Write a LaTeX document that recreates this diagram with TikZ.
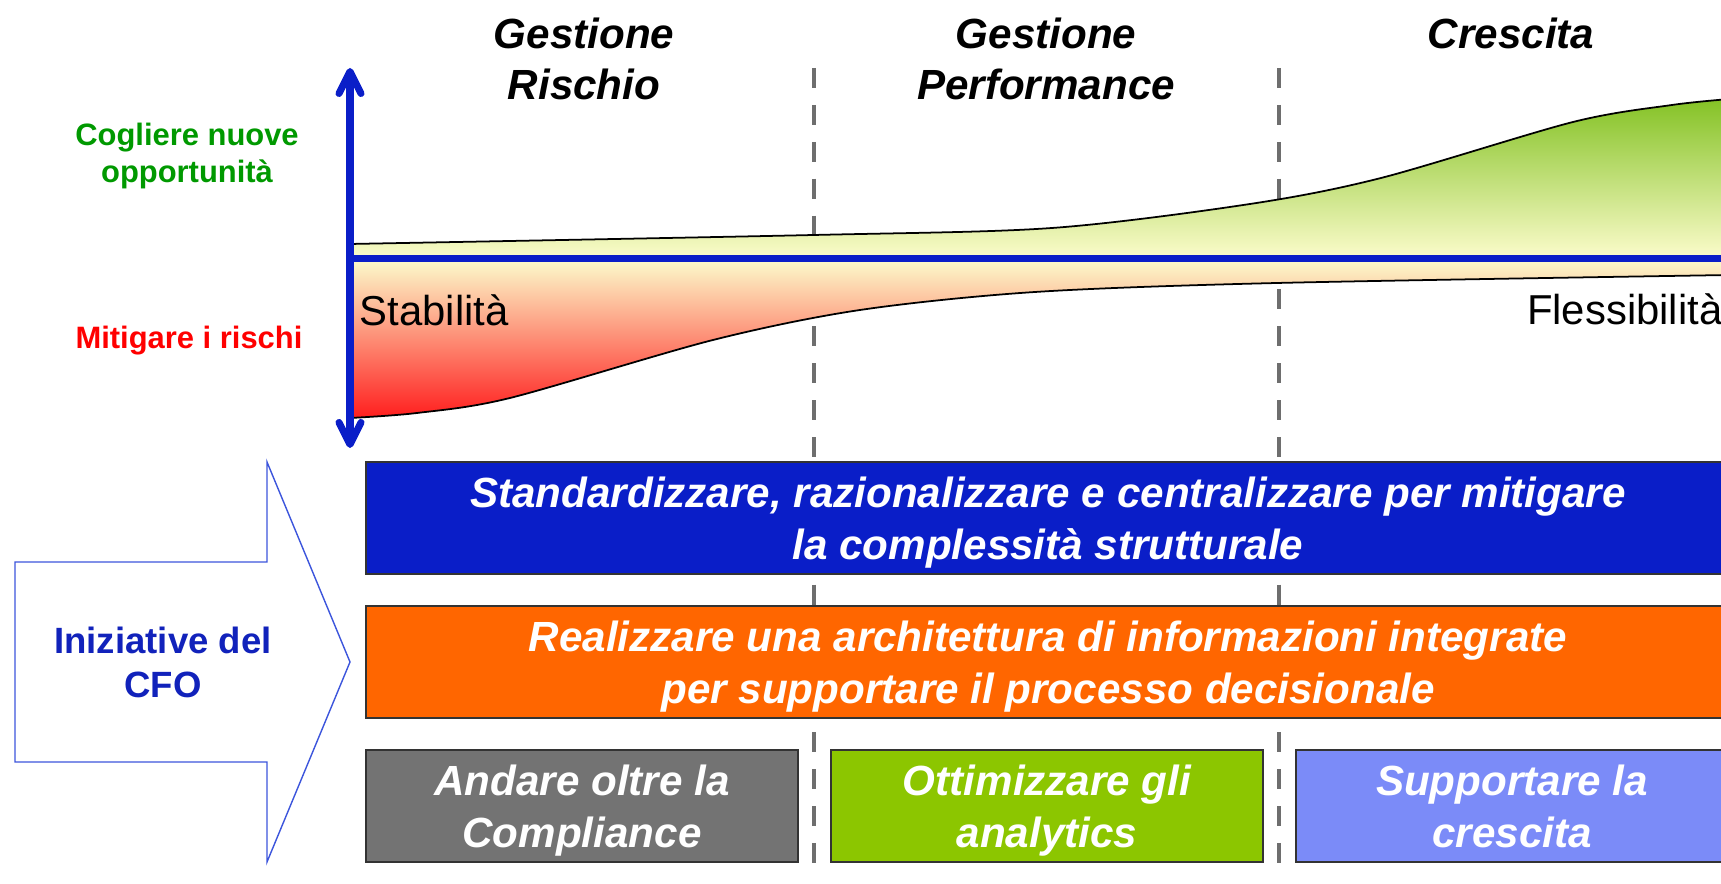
\documentclass[tikz,border=0pt]{standalone}
\usepackage{fontspec}
\setmainfont{Liberation Sans}
\usepackage{xcolor}
\usetikzlibrary{arrows.meta}

\definecolor{axisblue}{RGB}{10,30,200}
\definecolor{sepgrey}{RGB}{110,110,110}
\definecolor{growgreen}{RGB}{132,194,37}
\definecolor{growmid}{RGB}{228,240,170}
\definecolor{calmyellow}{RGB}{252,252,204}
\definecolor{riskmid}{RGB}{255,195,150}
\definecolor{riskred}{RGB}{255,30,30}
\definecolor{oppgreen}{RGB}{0,153,0}
\definecolor{cfoblue}{RGB}{17,34,187}
\definecolor{arrowblue}{RGB}{60,85,220}
\definecolor{barblue}{RGB}{10,30,200}
\definecolor{barorange}{RGB}{255,102,0}
\definecolor{bargrey}{RGB}{115,115,115}
\definecolor{bargreen}{RGB}{140,198,0}
\definecolor{barlight}{RGB}{123,139,248}

\begin{document}
\begin{tikzpicture}[
    phase/.style={font=\fontsize{12}{14.5}\selectfont\bfseries\itshape, align=center},
    side/.style={font=\fontsize{8.8}{10.8}\selectfont\bfseries, align=center},
    pole/.style={font=\fontsize{11.9}{14}\selectfont, inner sep=0pt},
    bar/.style={draw=black!80, line width=0.6pt, minimum height=1.12cm, inner sep=0pt,
                text depth=0pt, text=white,
                font=\fontsize{12}{14.7}\selectfont\bfseries\itshape, align=center},
    sep/.style={dash pattern=on 5.7pt off 4.8pt, line width=1.4pt, color=sepgrey},
    edge/.style={draw=black, line width=0.5pt},
    axisline/.style={axisblue, line width=2pt},
  ]

    \useasboundingbox (0,0) rectangle (17.21,8.84);
    \clip (0,0) rectangle (17.21,8.84);

    % Phase separators
    \draw[sep] (8.14,8.16) -- (8.14,0.12);
    \draw[sep] (12.79,8.16) -- (12.79,0.12);

    % Opportunity band (above)
    \draw[edge, top color=growgreen, middle color=growmid, bottom color=calmyellow]
      (3.50,6.25) -- plot[smooth] coordinates {(3.50,6.40) (8.14,6.49)
        (10.52,6.56) (12.50,6.80) (13.81,7.06) (15.73,7.62)
        (16.72,7.79) (17.30,7.85)} -- (17.30,6.25) -- cycle;

    % Risk band (below)
    \draw[edge, top color=calmyellow, middle color=riskmid, bottom color=riskred]
      (3.50,6.25) -- plot[smooth] coordinates {(3.50,4.66) (4.17,4.71) (5.10,4.86)
        (7.13,5.44) (8.60,5.74) (10.35,5.92) (12.77,6.01) (17.30,6.09)}
      -- (17.30,6.25) -- cycle;

    % Axes
    \draw[axisline] (3.50,6.25) -- (17.30,6.25);
    \draw[axisline, {Straight Barb[length=2.2mm, width=2.2mm, round]}-{Straight Barb[length=2.2mm, width=2.2mm, round]}]
      (3.50,4.36) -- (3.50,8.16);

    % Phases
    \node[phase] (phaserisk) at (5.84,8.255) {Gestione\\Rischio};
    \node[phase] (phaseperf) at (10.46,8.255) {Gestione\\Performance};
    \node[phase] (phasegrowth) at (15.11,8.51) {Crescita};

    % Axis labels
    \node[side, text=oppgreen] (labelopp) at (1.87,7.28) {Cogliere nuove\\opportunità};
    \node[side, text=red, anchor=base] (labelrisk) at (1.89,5.35) {Mitigare i rischi};
    \node[pole, anchor=base west] (labelstab) at (3.59,5.58) {Stabilità};
    \node[pole, anchor=base east] (labelflex) at (17.23,5.59) {Flessibilità};

    % CFO arrow
    \draw[arrowblue, line width=0.4pt, fill=white]
      (0.15,3.22) -- (2.67,3.22) -- (2.67,4.22) -- (3.50,2.22)
      -- (2.67,0.22) -- (2.67,1.22) -- (0.15,1.22) -- cycle;
    \node[font=\fontsize{10.4}{12.5}\selectfont\bfseries, text=cfoblue, align=center]
      (cfo) at (1.63,2.22) {Iniziative del\\CFO};

    % --------------------
    % Initiatives
    % --------------------

    \node[bar, fill=barblue, minimum width=13.64cm] (standard) at (10.48,3.66)
      {Standardizzare, razionalizzare e centralizzare per mitigare\\la complessità strutturale};
    \node[bar, fill=barorange, minimum width=13.64cm] (architecture) at (10.48,2.22)
      {Realizzare una architettura di informazioni integrate\\per supportare il processo decisionale};

    \node[bar, fill=bargrey, minimum width=4.32cm] (compliance) at (5.82,0.78)
      {Andare oltre la\\Compliance};
    \node[bar, fill=bargreen, minimum width=4.32cm] (analytics) at (10.47,0.78)
      {Ottimizzare gli\\analytics};
    \node[bar, fill=barlight, minimum width=4.32cm] (growth) at (15.12,0.78)
      {Supportare la\\crescita};

  \end{tikzpicture}
\end{document}
